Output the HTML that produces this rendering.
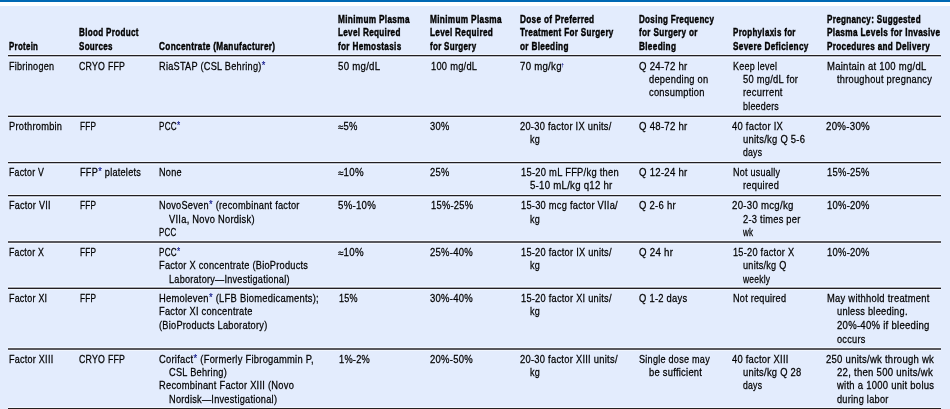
<!DOCTYPE html>
<html lang="en"><head><meta charset="utf-8"><title>Rare coagulation factor deficiencies</title>
<style>
html,body{margin:0;padding:0;background:#fff}
#pg{position:relative;width:950px;height:409px;overflow:hidden;background:#e3ecfd;font-family:"Liberation Sans", sans-serif}
#bar{position:absolute;left:0;top:0;width:950px;height:2px;background:#0069b4}
#gap{position:absolute;left:0;top:2px;width:950px;height:4px;background:#fff}
hr{position:absolute;left:8px;width:933px;height:2px;margin:0;border:0;box-shadow:0 -1px 0 rgba(255,255,255,.5),0 1px 0 rgba(255,255,255,.5)}
#txt{position:absolute;left:0;top:0;width:950px;height:409px;will-change:transform}
#txt div{position:absolute;white-space:nowrap;line-height:14px;transform-origin:0 0}
.r{font-size:11.0px;font-weight:400;letter-spacing:0.3px;color:#000;-webkit-text-stroke:0.26px #000}
.b{font-size:11.5px;font-weight:700;letter-spacing:0.45px;color:#000;-webkit-text-stroke:0.45px #000}
i{font-style:normal;color:#141a8c;font-size:11.0px;margin-left:0.3px;position:relative;top:-0.8px;-webkit-text-stroke:.2px #141a8c}
u{text-decoration:none;position:relative;top:1px}
.d{position:absolute;font-size:5px;line-height:8px;font-weight:700;color:#141a8c}
</style></head><body>
<div id="pg"><div id="bar"></div><div id="gap"></div>
<hr style="top:55px;background:linear-gradient(to bottom,rgba(35,31,32,1.0) 0,rgba(35,31,32,1.0) 1px,rgba(35,31,32,0.25) 1px,rgba(35,31,32,0.25) 2px)"><hr style="top:115px;background:linear-gradient(to bottom,rgba(35,31,32,0.3) 0,rgba(35,31,32,0.3) 1px,rgba(35,31,32,1.0) 1px,rgba(35,31,32,1.0) 2px)"><hr style="top:162px;background:linear-gradient(to bottom,rgba(35,31,32,1.0) 0,rgba(35,31,32,1.0) 1px,rgba(35,31,32,0.2) 1px,rgba(35,31,32,0.2) 2px)"><hr style="top:195px;background:linear-gradient(to bottom,rgba(35,31,32,1.0) 0,rgba(35,31,32,1.0) 1px,rgba(35,31,32,0.2) 1px,rgba(35,31,32,0.2) 2px)"><hr style="top:241px;background:linear-gradient(to bottom,rgba(35,31,32,0.72) 0,rgba(35,31,32,0.72) 1px,rgba(35,31,32,0.72) 1px,rgba(35,31,32,0.72) 2px)"><hr style="top:287px;background:linear-gradient(to bottom,rgba(35,31,32,0.35) 0,rgba(35,31,32,0.35) 1px,rgba(35,31,32,1.0) 1px,rgba(35,31,32,1.0) 2px)"><hr style="top:348px;background:linear-gradient(to bottom,rgba(35,31,32,0.72) 0,rgba(35,31,32,0.72) 1px,rgba(35,31,32,0.72) 1px,rgba(35,31,32,0.72) 2px)"><hr style="top:408px;background:linear-gradient(to bottom,rgba(35,31,32,1.0) 0,rgba(35,31,32,1.0) 1px,rgba(35,31,32,0.0) 1px,rgba(35,31,32,0.0) 2px)">
<div id="txt">
<div class="b" style="left:9.00px;top:39px;transform:scaleX(0.6834)">Protein</div>
<div class="b" style="left:79.10px;top:25px;transform:scaleX(0.7030)">Blood Product</div>
<div class="b" style="left:79.10px;top:39px;transform:scaleX(0.6962)">Sources</div>
<div class="b" style="left:158.70px;top:39px;transform:scaleX(0.7163)">Concentrate (Manufacturer)</div>
<div class="b" style="left:338.00px;top:12px;transform:scaleX(0.7162)">Minimum Plasma</div>
<div class="b" style="left:338.00px;top:25px;transform:scaleX(0.7069)">Level Required</div>
<div class="b" style="left:338.00px;top:39px;transform:scaleX(0.7104)">for Hemostasis</div>
<div class="b" style="left:429.90px;top:12px;transform:scaleX(0.7172)">Minimum Plasma</div>
<div class="b" style="left:429.90px;top:25px;transform:scaleX(0.7115)">Level Required</div>
<div class="b" style="left:429.90px;top:39px;transform:scaleX(0.6946)">for Surgery</div>
<div class="b" style="left:519.90px;top:12px;transform:scaleX(0.7147)">Dose of Preferred</div>
<div class="b" style="left:519.90px;top:25px;transform:scaleX(0.7056)">Treatment For Surgery</div>
<div class="b" style="left:519.90px;top:39px;transform:scaleX(0.7146)">or Bleeding</div>
<div class="b" style="left:638.70px;top:12px;transform:scaleX(0.6993)">Dosing Frequency</div>
<div class="b" style="left:638.70px;top:25px;transform:scaleX(0.7092)">for Surgery or</div>
<div class="b" style="left:638.70px;top:39px;transform:scaleX(0.7139)">Bleeding</div>
<div class="b" style="left:732.50px;top:25px;transform:scaleX(0.6936)">Prophylaxis for</div>
<div class="b" style="left:732.50px;top:39px;transform:scaleX(0.7134)">Severe Deficiency</div>
<div class="b" style="left:826.50px;top:12px;transform:scaleX(0.7030)">Pregnancy: Suggested</div>
<div class="b" style="left:826.50px;top:25px;transform:scaleX(0.7174)">Plasma Levels for Invasive</div>
<div class="b" style="left:826.50px;top:39px;transform:scaleX(0.7092)">Procedures and Delivery</div>
<div class="r" style="left:9.00px;top:59px;transform:scaleX(0.8230)">Fibrinogen</div>
<div class="r" style="left:79.10px;top:59px;transform:scaleX(0.7993)">CRYO FFP</div>
<div class="r" style="left:158.70px;top:59px;transform:scaleX(0.8348)">RiaSTAP (CSL Behring)<i>*</i></div>
<div class="r" style="left:338.00px;top:59px;transform:scaleX(0.8778)">50 mg/dL</div>
<div class="r" style="left:430.60px;top:59px;transform:scaleX(0.8459)">100 mg/dL</div>
<div class="r" style="left:519.90px;top:59px;transform:scaleX(0.8766)">70 mg/kg</div>
<div class="r" style="left:638.70px;top:59px;transform:scaleX(0.8738)">Q 24-72 hr</div>
<div class="r" style="left:649.40px;top:72px;transform:scaleX(0.8460)">depending on</div>
<div class="r" style="left:649.40px;top:85px;transform:scaleX(0.8490)">consumption</div>
<div class="r" style="left:733.00px;top:59px;transform:scaleX(0.8131)">Keep level</div>
<div class="r" style="left:742.70px;top:72px;transform:scaleX(0.8502)">50 mg/dL for</div>
<div class="r" style="left:742.70px;top:85px;transform:scaleX(0.8499)">recurrent</div>
<div class="r" style="left:742.70px;top:99px;transform:scaleX(0.8081)">bleeders</div>
<div class="r" style="left:826.50px;top:59px;transform:scaleX(0.8638)">Maintain at 100 mg/dL</div>
<div class="r" style="left:836.50px;top:72px;transform:scaleX(0.8417)">throughout pregnancy</div>
<div class="r" style="left:9.00px;top:119px;transform:scaleX(0.8424)">Prothrombin</div>
<div class="r" style="left:79.80px;top:119px;transform:scaleX(0.7510)">FFP</div>
<div class="r" style="left:159.20px;top:119px;transform:scaleX(0.7375)">PCC<i>*</i></div>
<div class="r" style="left:338.00px;top:119px;transform:scaleX(0.8570)"><u>≈</u>5%</div>
<div class="r" style="left:429.90px;top:119px;transform:scaleX(0.8496)">30%</div>
<div class="r" style="left:519.90px;top:119px;transform:scaleX(0.8470)">20-30 factor IX units/</div>
<div class="r" style="left:529.90px;top:132px;transform:scaleX(0.8220)">kg</div>
<div class="r" style="left:638.70px;top:119px;transform:scaleX(0.8738)">Q 48-72 hr</div>
<div class="r" style="left:732.00px;top:119px;transform:scaleX(0.8536)">40 factor IX</div>
<div class="r" style="left:742.70px;top:132px;transform:scaleX(0.8566)">units/kg Q 5-6</div>
<div class="r" style="left:742.70px;top:145px;transform:scaleX(0.7875)">days</div>
<div class="r" style="left:826.00px;top:119px;transform:scaleX(0.8830)">20%-30%</div>
<div class="r" style="left:9.00px;top:165px;transform:scaleX(0.7986)">Factor V</div>
<div class="r" style="left:79.80px;top:165px;transform:scaleX(0.8295)">FFP<i>*</i> platelets</div>
<div class="r" style="left:159.20px;top:165px;transform:scaleX(0.8272)">None</div>
<div class="r" style="left:338.00px;top:165px;transform:scaleX(0.8810)"><u>≈</u>10%</div>
<div class="r" style="left:429.90px;top:165px;transform:scaleX(0.8496)">25%</div>
<div class="r" style="left:520.70px;top:165px;transform:scaleX(0.8520)">15-20 mL FFP/kg then</div>
<div class="r" style="left:529.90px;top:178px;transform:scaleX(0.8749)">5-10 mL/kg q12 hr</div>
<div class="r" style="left:638.70px;top:165px;transform:scaleX(0.8738)">Q 12-24 hr</div>
<div class="r" style="left:733.00px;top:165px;transform:scaleX(0.8184)">Not usually</div>
<div class="r" style="left:742.70px;top:178px;transform:scaleX(0.8432)">required</div>
<div class="r" style="left:827.30px;top:165px;transform:scaleX(0.8569)">15%-25%</div>
<div class="r" style="left:9.00px;top:198px;transform:scaleX(0.8227)">Factor VII</div>
<div class="r" style="left:79.80px;top:198px;transform:scaleX(0.7510)">FFP</div>
<div class="r" style="left:159.20px;top:198px;transform:scaleX(0.8360)">NovoSeven<i>*</i> (recombinant factor</div>
<div class="r" style="left:169.00px;top:212px;transform:scaleX(0.8491)">VIIa, Novo Nordisk)</div>
<div class="r" style="left:159.20px;top:225px;transform:scaleX(0.7202)">PCC</div>
<div class="r" style="left:338.00px;top:198px;transform:scaleX(0.8777)">5%-10%</div>
<div class="r" style="left:430.60px;top:198px;transform:scaleX(0.8488)">15%-25%</div>
<div class="r" style="left:520.70px;top:198px;transform:scaleX(0.8444)">15-30 mcg factor VIIa/</div>
<div class="r" style="left:529.90px;top:212px;transform:scaleX(0.8220)">kg</div>
<div class="r" style="left:638.70px;top:198px;transform:scaleX(0.8625)">Q 2-6 hr</div>
<div class="r" style="left:732.00px;top:198px;transform:scaleX(0.8779)">20-30 mcg/kg</div>
<div class="r" style="left:742.70px;top:212px;transform:scaleX(0.8455)">2-3 times per</div>
<div class="r" style="left:743.43px;top:225px;transform:scaleX(0.7347)">wk</div>
<div class="r" style="left:827.30px;top:198px;transform:scaleX(0.8569)">10%-20%</div>
<div class="r" style="left:9.00px;top:245px;transform:scaleX(0.7986)">Factor X</div>
<div class="r" style="left:79.80px;top:245px;transform:scaleX(0.7510)">FFP</div>
<div class="r" style="left:159.20px;top:245px;transform:scaleX(0.7375)">PCC<i>*</i></div>
<div class="r" style="left:159.20px;top:258px;transform:scaleX(0.8382)">Factor X concentrate (BioProducts</div>
<div class="r" style="left:169.00px;top:272px;transform:scaleX(0.8285)">Laboratory—Investigational)</div>
<div class="r" style="left:338.00px;top:245px;transform:scaleX(0.8810)"><u>≈</u>10%</div>
<div class="r" style="left:429.90px;top:245px;transform:scaleX(0.8629)">25%-40%</div>
<div class="r" style="left:520.70px;top:245px;transform:scaleX(0.8396)">15-20 factor IX units/</div>
<div class="r" style="left:529.90px;top:258px;transform:scaleX(0.8220)">kg</div>
<div class="r" style="left:638.70px;top:245px;transform:scaleX(0.8810)">Q 24 hr</div>
<div class="r" style="left:733.00px;top:245px;transform:scaleX(0.8363)">15-20 factor X</div>
<div class="r" style="left:742.70px;top:258px;transform:scaleX(0.8279)">units/kg Q</div>
<div class="r" style="left:743.47px;top:272px;transform:scaleX(0.7700)">weekly</div>
<div class="r" style="left:827.30px;top:245px;transform:scaleX(0.8569)">10%-20%</div>
<div class="r" style="left:9.00px;top:291px;transform:scaleX(0.8091)">Factor XI</div>
<div class="r" style="left:79.80px;top:291px;transform:scaleX(0.7510)">FFP</div>
<div class="r" style="left:159.20px;top:291px;transform:scaleX(0.8515)">Hemoleven<i>*</i> (LFB Biomedicaments);</div>
<div class="r" style="left:159.20px;top:304px;transform:scaleX(0.8402)">Factor XI concentrate</div>
<div class="r" style="left:159.20px;top:318px;transform:scaleX(0.8380)">(BioProducts Laboratory)</div>
<div class="r" style="left:338.80px;top:291px;transform:scaleX(0.8189)">15%</div>
<div class="r" style="left:429.90px;top:291px;transform:scaleX(0.8629)">30%-40%</div>
<div class="r" style="left:520.70px;top:291px;transform:scaleX(0.8396)">15-20 factor XI units/</div>
<div class="r" style="left:529.90px;top:304px;transform:scaleX(0.8220)">kg</div>
<div class="r" style="left:638.70px;top:291px;transform:scaleX(0.8526)">Q 1-2 days</div>
<div class="r" style="left:733.00px;top:291px;transform:scaleX(0.8303)">Not required</div>
<div class="r" style="left:826.50px;top:291px;transform:scaleX(0.8528)">May withhold treatment</div>
<div class="r" style="left:836.50px;top:304px;transform:scaleX(0.8386)">unless bleeding.</div>
<div class="r" style="left:836.50px;top:318px;transform:scaleX(0.8693)">20%-40% if bleeding</div>
<div class="r" style="left:836.50px;top:332px;transform:scaleX(0.8343)">occurs</div>
<div class="r" style="left:9.00px;top:352px;transform:scaleX(0.8215)">Factor XIII</div>
<div class="r" style="left:79.10px;top:352px;transform:scaleX(0.7993)">CRYO FFP</div>
<div class="r" style="left:159.20px;top:352px;transform:scaleX(0.8508)">Corifact<i>*</i> (Formerly Fibrogammin P,</div>
<div class="r" style="left:169.00px;top:365px;transform:scaleX(0.8374)">CSL Behring)</div>
<div class="r" style="left:159.20px;top:378px;transform:scaleX(0.8457)">Recombinant Factor XIII (Novo</div>
<div class="r" style="left:169.00px;top:392px;transform:scaleX(0.8357)">Nordisk—Investigational)</div>
<div class="r" style="left:338.80px;top:352px;transform:scaleX(0.8379)">1%-2%</div>
<div class="r" style="left:429.90px;top:352px;transform:scaleX(0.8629)">20%-50%</div>
<div class="r" style="left:519.90px;top:352px;transform:scaleX(0.8514)">20-30 factor XIII units/</div>
<div class="r" style="left:529.90px;top:365px;transform:scaleX(0.8220)">kg</div>
<div class="r" style="left:638.70px;top:352px;transform:scaleX(0.8265)">Single dose may</div>
<div class="r" style="left:649.40px;top:365px;transform:scaleX(0.8526)">be sufficient</div>
<div class="r" style="left:732.00px;top:352px;transform:scaleX(0.8504)">40 factor XIII</div>
<div class="r" style="left:742.70px;top:365px;transform:scaleX(0.8507)">units/kg Q 28</div>
<div class="r" style="left:742.70px;top:378px;transform:scaleX(0.7875)">days</div>
<div class="r" style="left:826.00px;top:352px;transform:scaleX(0.8657)">250 units/wk through wk</div>
<div class="r" style="left:836.50px;top:365px;transform:scaleX(0.8700)">22, then 500 units/wk</div>
<div class="r" style="left:837.36px;top:378px;transform:scaleX(0.8607)">with a 1000 unit bolus</div>
<div class="r" style="left:836.50px;top:392px;transform:scaleX(0.8359)">during labor</div>
<div class="d" style="left:561.2px;top:58px">†</div>
</div>
</div></body></html>
